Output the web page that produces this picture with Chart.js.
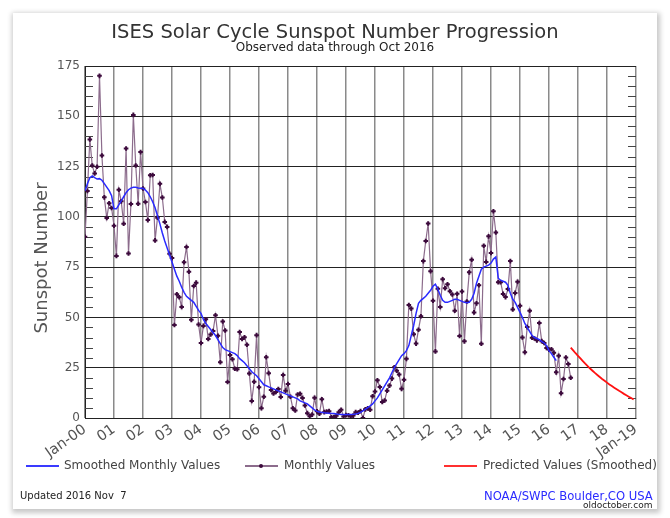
<!DOCTYPE html>
<html>
<head>
<meta charset="utf-8">
<title>ISES Solar Cycle Sunspot Number Progression</title>
<script src="https://cdn.jsdelivr.net/npm/chart.js@4.4.0/dist/chart.umd.min.js"></script>
<style>
    body { margin: 0; background: #fff; width: 670px; height: 518px; overflow: hidden; font-family: 'DejaVu Sans', sans-serif; }
    #panel { position: absolute; left: 13px; top: 13px; width: 644px; height: 496px; background: #fff; box-shadow: 1px 2px 5px 2px rgba(0, 0, 0, 0.22); }
    #mainChart { position: absolute; left: 0; top: 0; }
    .txt { position: absolute; white-space: nowrap; color: #333; }
    .swatch { position: absolute; height: 2px; width: 33px; }
</style>
</head>
<body>
<div id="panel"></div>
<canvas id="mainChart" width="670" height="518"></canvas>

<div class="txt" style="left:0; width:670px; text-align:center; top:20px; font-size:19.5px; color:#333;">ISES Solar Cycle Sunspot Number Progression</div>
<div class="txt" style="left:0; width:670px; text-align:center; top:40px; font-size:12px; color:#222;">Observed data through Oct 2016</div>
<div class="txt" style="left:40px; top:258px; font-size:18px; color:#555; transform: translate(-50%, -50%) rotate(-90deg);">Sunspot Number</div>

<div class="swatch" style="left:26px; top:465px; background:#3a3aff;"></div>
<div class="txt" style="left:64px; top:458px; font-size:12px; color:#444;">Smoothed Monthly Values</div>
<div class="swatch" style="left:245px; top:465px; background:#8c6c8c;"></div>
<div style="position:absolute; left:259px; top:464px; width:4px; height:4px; background:#3c0a3c; border-radius:2px;"></div>
<div class="txt" style="left:284px; top:458px; font-size:12px; color:#444;">Monthly Values</div>
<div class="swatch" style="left:444px; top:465px; background:#ff3030;"></div>
<div class="txt" style="left:483px; top:458px; font-size:12px; color:#444;">Predicted Values (Smoothed)</div>

<div class="txt" style="left:20px; top:490px; font-size:10px; color:#222;">Updated 2016 Nov &nbsp;7</div>
<div class="txt" style="left:484px; top:489px; font-size:11.6px; color:#2a2aff;">NOAA/SWPC Boulder,CO USA</div>
<div class="txt" style="left:583px; top:500px; font-size:9px; color:#222; text-shadow: 0 0 2px #fff;">oldoctober.com</div>

<script>
// x axis = months since Jan 2000, one tick per year
const tickLabels = ['Jan-00', '01', '02', '03', '04', '05', '06', '07', '08', '09',
    '10', '11', '12', '13', '14', '15', '16', '17', '18', 'Jan-19'];

// monthly sunspot numbers, Jan 2000 .. Oct 2016
const monthlyValues = [
    90.1, 112.9, 138.5, 125.5, 121.6, 124.9, 170.1, 130.5, 109.7, 99.4, 106.8, 104.4,
    95.6, 80.6, 113.5, 107.7, 96.6, 134.0, 81.8, 106.4, 150.7, 125.5, 106.5, 132.2,
    114.1, 107.4, 98.4, 120.7, 120.8, 88.3, 99.6, 116.4, 109.6, 97.5, 95.0, 81.6,
    79.5, 46.2, 61.5, 60.0, 55.2, 77.4, 85.0, 72.7, 48.8, 65.6, 67.3, 46.5,
    37.3, 45.8, 49.1, 39.3, 41.5, 43.2, 51.1, 40.9, 27.7, 48.0, 43.5, 17.9,
    31.3, 29.2, 24.5, 24.2, 42.7, 39.3, 40.1, 36.4, 22.1, 8.5, 18.0, 41.2,
    15.3, 4.9, 10.6, 30.2, 22.3, 13.9, 12.2, 12.9, 14.4, 10.5, 21.4, 13.6,
    16.9, 10.6, 4.8, 3.7, 11.7, 12.0, 10.0, 6.2, 2.4, 0.9, 1.7, 10.1,
    3.3, 2.1, 9.3, 2.9, 3.2, 3.4, 0.5, 0.5, 1.1, 2.9, 4.1, 0.8,
    1.5, 1.4, 0.7, 1.2, 2.9, 2.6, 3.5, 0.0, 4.3, 4.8, 4.1, 10.8,
    13.2, 18.8, 15.4, 8.0, 8.7, 13.6, 16.1, 19.6, 25.2, 23.5, 21.6, 14.5,
    19.0, 29.4, 56.2, 54.4, 41.6, 37.0, 43.9, 50.6, 78.0, 88.0, 96.7, 73.0,
    58.3, 33.1, 64.2, 55.2, 69.0, 64.5, 66.5, 63.0, 61.4, 53.3, 61.8, 40.8,
    62.9, 38.1, 57.9, 72.4, 78.7, 52.5, 57.0, 66.0, 36.9, 85.6, 77.6, 90.3,
    82.0, 102.8, 92.2, 67.5, 67.5, 61.7, 60.1, 64.1, 78.0, 54.0, 62.2, 67.7,
    55.8, 40.0, 32.7, 45.2, 53.3, 39.9, 39.5, 38.6, 47.2, 38.2, 37.3, 34.8,
    34.0, 34.2, 32.5, 22.7, 30.9, 12.3, 19.4, 30.1, 26.8, 20.0
];

// smoothed monthly values, Jan 2000 .. Apr 2016
const smoothedValues = [
    113, 116.5, 119.5, 120.3, 119.5, 118.8, 119, 118.2, 116.5, 114.8, 113, 110.5,
    104, 104, 106, 108, 110, 112, 113.5, 114.3, 114.7, 114.7, 114.4, 114.2,
    114.2, 113.3, 112, 110, 107.5, 104.5, 100.5, 96.5, 92, 88, 84.5, 81,
    77.5, 74, 70.5, 68, 65, 62.5, 60.5, 59.5, 58.5, 57.5, 55.5, 53.5,
    52, 49, 47, 45.5, 44, 42.5, 41, 39, 37, 35, 34, 33.5,
    33, 32.5, 32, 31, 29.5, 28.5, 27.5, 26, 24.5, 23, 22, 21,
    19.5, 18, 16.5, 16, 15.5, 15, 14.5, 14, 13.5, 13, 12.5, 12,
    11.5, 11, 10.5, 10, 9.5, 8.5, 8, 7.5, 7, 6, 5, 4,
    3.3, 3, 2.8, 2.6, 2.5, 2.4, 2.3, 2.2, 2, 1.8, 1.7, 1.7,
    1.8, 1.7, 1.7, 1.8, 2, 2.3, 2.8, 3.5, 4.3, 5.2, 6, 7,
    8.5, 10, 12, 14, 16, 18, 20, 22.5, 25, 27, 29, 31,
    32, 33.5, 36, 41, 46, 52, 57, 58.5, 59.5, 60.5, 62, 63.5,
    65.5, 66.5, 64, 61, 58.5, 57.5, 57.5, 58, 58.5, 59, 59, 58.5,
    58, 57.5, 57.3, 57.5, 59, 62, 67, 70.5, 74, 75, 75.5, 76,
    77, 79, 80, 69.5, 68.5, 68, 67.5, 66, 62, 59, 57.5, 55,
    52.5, 50, 47, 45, 43, 41, 40, 39.5, 39, 38, 37.3, 36,
    33.5, 32, 30.2, 28.5
];

// predicted smoothed values, Oct 2016 .. Dec 2018
const predictedStart = 201;
const predictedValues = [
    35.0, 33.6, 32.2, 30.9, 29.6, 28.3, 27.0, 25.8, 24.6, 23.5, 22.4, 21.4, 20.4,
    19.4, 18.5, 17.6, 16.7, 15.9, 15.1, 14.3, 13.5, 12.8, 12.0, 11.3, 10.6, 9.9, 9.2
];

const toPoints = (start, values) => values.map((v, i) => ({ x: start + i, y: v }));

// short inner ticks every 5 units on both y edges
const minorTicks = {
    id: 'minorTicks',
    beforeDatasetsDraw(chart) {
        const { ctx, chartArea, scales } = chart;
        const y = scales.y;
        ctx.save();
        ctx.strokeStyle = '#444';
        ctx.lineWidth = 1;
        for (let v = 5; v < y.max; v += 5) {
            if (v % 25 === 0) continue;
            const py = Math.round(y.getPixelForValue(v)) + 0.5;
            ctx.beginPath();
            ctx.moveTo(chartArea.left, py);
            ctx.lineTo(chartArea.left + 8, py);
            ctx.moveTo(chartArea.right, py);
            ctx.lineTo(chartArea.right - 8, py);
            ctx.stroke();
        }
        ctx.restore();
    }
};

const ctxMain = document.getElementById('mainChart').getContext('2d');

window.mainChart = new Chart(ctxMain, {
    type: 'line',
    data: {
        datasets: [
            {
                label: 'Smoothed Monthly Values',
                data: toPoints(0, smoothedValues),
                borderColor: '#2a2aff',
                borderWidth: 1.5,
                pointRadius: 0,
                order: 0
            },
            {
                label: 'Monthly Values',
                data: toPoints(0, monthlyValues),
                borderColor: '#8c6c8c',
                borderWidth: 1.2,
                pointStyle: 'cross',
                pointRadius: 2.3,
                pointBorderColor: '#3c0a3c',
                pointBackgroundColor: '#3c0a3c',
                pointBorderWidth: 2,
                order: 1
            },
            {
                label: 'Predicted Values (Smoothed)',
                data: toPoints(predictedStart, predictedValues),
                borderColor: '#ff1010',
                borderWidth: 1.8,
                pointRadius: 0,
                order: 0
            }
        ]
    },
    options: {
        responsive: false,
        animation: false,
        devicePixelRatio: 1,
        layout: { padding: { left: 0, right: 34, top: 66, bottom: 0 } },
        plugins: { legend: { display: false }, tooltip: { enabled: false } },
        scales: {
            x: {
                type: 'linear',
                min: 0,
                max: (tickLabels.length - 1) * 12,
                afterFit: (s) => { s.height = 100; },
                ticks: {
                    stepSize: 12,
                    autoSkip: false,
                    minRotation: 35,
                    maxRotation: 35,
                    padding: 3,
                    color: '#555',
                    font: { family: 'DejaVu Sans', size: 14.5 },
                    callback: (v) => tickLabels[Math.round(v / 12)]
                },
                grid: { color: '#8a8a8a', lineWidth: 1.5, drawTicks: false },
                border: { color: '#222', width: 1 }
            },
            y: {
                min: 0,
                max: 175,
                afterFit: (s) => { s.width = 85; },
                ticks: {
                    stepSize: 25,
                    padding: 5,
                    color: '#555',
                    font: { family: 'DejaVu Sans', size: 12 }
                },
                grid: { color: '#222', lineWidth: 1, drawTicks: false },
                border: { color: '#222', width: 1 }
            }
        }
    },
    plugins: [minorTicks]
});
</script>
</body>
</html>
